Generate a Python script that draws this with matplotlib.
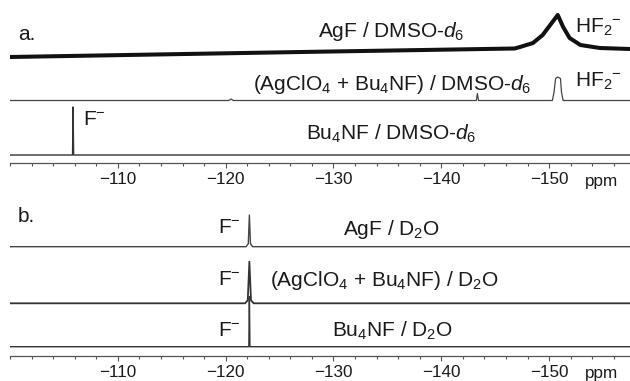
import matplotlib
matplotlib.use("Agg")
import matplotlib.pyplot as plt
from matplotlib.ticker import FixedLocator, MultipleLocator

plt.rcParams['font.family'] = ['Liberation Sans', 'DejaVu Sans']
plt.rcParams['mathtext.fontset'] = 'custom'
plt.rcParams['mathtext.rm'] = 'Liberation Sans'
plt.rcParams['mathtext.it'] = 'Liberation Sans:italic'
plt.rcParams['mathtext.bf'] = 'Liberation Sans:bold'

# ---------------- data (chemical shift in ppm, intensity in arbitrary units) -------------
ppm_range = (-100, -157.5)
major_ticks = [-110, -120, -130, -140, -150]
tick_labels = ['\u2212110', '\u2212120', '\u2212130', '\u2212140', '\u2212150']

# Panel a (DMSO-d6)
a1_ppm = [-100, -127.0, -146.8, -147.3, -148.5, -149.4, -150.1, -150.8, -151.3, -151.9, -152.9, -154.7, -157.5]
a1_int = [0, 5, 8.5, 10, 14, 22, 32, 42, 30, 19, 12, 9, 8]            # AgF / DMSO-d6
a2_ppm = [-100, -120.3, -120.5, -120.7, -143.25, -143.35, -143.45, -150.3, -150.45, -150.6, -150.8, -151.05, -151.15, -151.3, -157.5]
a2_int = [0, 0, 1.5, 0, 0, 7, 0, 0, 8, 22, 23.5, 22, 8, 0, 0]          # (AgClO4 + Bu4NF) / DMSO-d6
a3_ppm = [-100, -105.8, -105.85, -105.9, -157.5]
a3_int = [0, 0, 48, 0, 0]                                              # Bu4NF / DMSO-d6

# Panel b (D2O)
b1_ppm = [-100, -121.9, -122.1, -122.2, -122.3, -122.5, -157.5]
b1_int = [0, 0, 3, 31.7, 3, 0, 0]                                      # AgF / D2O
b2_ppm = [-100, -121.8, -122.05, -122.2, -122.35, -122.6, -157.5]
b2_int = [0, 0, 3, 41.6, 3, 0, 0]                                      # (AgClO4 + Bu4NF) / D2O
b3_ppm = [-100, -122.15, -122.2, -122.25, -157.5]
b3_int = [0, 0, 50, 0, 0]                                              # Bu4NF / D2O

# ---------------- layout ----------------
W, H = 630, 381
fig = plt.figure(figsize=(W / 100, H / 100), dpi=100)
fig.patch.set_facecolor('white')

AX_LEFT = 10
AX_H = 163.0
TICK_SIZE = 12.3


def make_axes(spine_px):
    ax = fig.add_axes([AX_LEFT / W, 1 - spine_px / H, (W - AX_LEFT) / W, AX_H / H])
    ax.set_xlim(*ppm_range)
    ax.set_ylim(0, AX_H)
    for s in ('top', 'left', 'right'):
        ax.spines[s].set_visible(False)
    ax.spines['bottom'].set_color('#555555')
    ax.spines['bottom'].set_linewidth(0.9)
    ax.set_yticks([])
    ax.xaxis.set_major_locator(FixedLocator(major_ticks))
    ax.set_xticklabels(tick_labels)
    ax.xaxis.set_minor_locator(MultipleLocator(2))
    ax.tick_params(axis='x', which='major', direction='out', length=3.6, width=0.8,
                   color='#555555', labelsize=TICK_SIZE, pad=3, labelcolor='#1a1a1a')
    ax.tick_params(axis='x', which='minor', direction='out', length=2.2, width=0.8,
                   color='#555555')
    ax.patch.set_alpha(0)
    return ax


def txt(x, y, s, size=15, **kw):
    fig.text(x / W, 1 - y / H, s, ha='left', va='baseline', fontsize=size,
             color='#1a1a1a', **kw)


SPINE_A = 163.3
SPINE_B = 355.7
axa = make_axes(SPINE_A)
axb = make_axes(SPINE_B)

# baseline offsets (pixels above the axis line)
off_a = [SPINE_A - 57, SPINE_A - 100.5, SPINE_A - 155]
off_b = [SPINE_B - 246.7, SPINE_B - 303.3, SPINE_B - 346.7]

axa.plot(a1_ppm, [v + off_a[0] for v in a1_int], color='#111111', lw=2.9, solid_joinstyle='round')
axa.plot(a2_ppm, [v + off_a[1] for v in a2_int], color='#444444', lw=0.9)
axa.plot(a3_ppm, [v + off_a[2] for v in a3_int], color='#333333', lw=1.0)

axb.plot(b1_ppm, [v + off_b[0] for v in b1_int], color='#444444', lw=1.0)
axb.plot(b2_ppm, [v + off_b[1] for v in b2_int], color='#333333', lw=1.3)
axb.plot(b3_ppm, [v + off_b[2] for v in b3_int], color='#333333', lw=1.0)

# ---------------- texts ----------------
D6 = r'$\mathit{d}_{\mathit{6}}$'
HF2 = r'HF$_2$$^{\mathrm{-}}$'
FM = r'F$^{\mathrm{-}}$'

txt(18, 40, 'a.')
txt(318, 37, 'AgF / DMSO-' + D6)
txt(575, 33, HF2)
txt(253, 90, r'(AgClO$_4$ + Bu$_4$NF) / DMSO-' + D6)
txt(575, 87, HF2)
txt(83, 125, FM)
txt(306, 140, r'Bu$_4$NF / DMSO-' + D6)
txt(585, 185.7, 'ppm', size=TICK_SIZE)

txt(18, 222, 'b.')
txt(218, 233, FM)
txt(343, 235, r'AgF / D$_2$O')
txt(218, 285, FM)
txt(270, 286, r'(AgClO$_4$ + Bu$_4$NF) / D$_2$O')
txt(218, 336, FM)
txt(332, 336.7, r'Bu$_4$NF / D$_2$O')
txt(585, 378, 'ppm', size=TICK_SIZE)

fig.savefig('out.png', dpi=100, facecolor='white')
